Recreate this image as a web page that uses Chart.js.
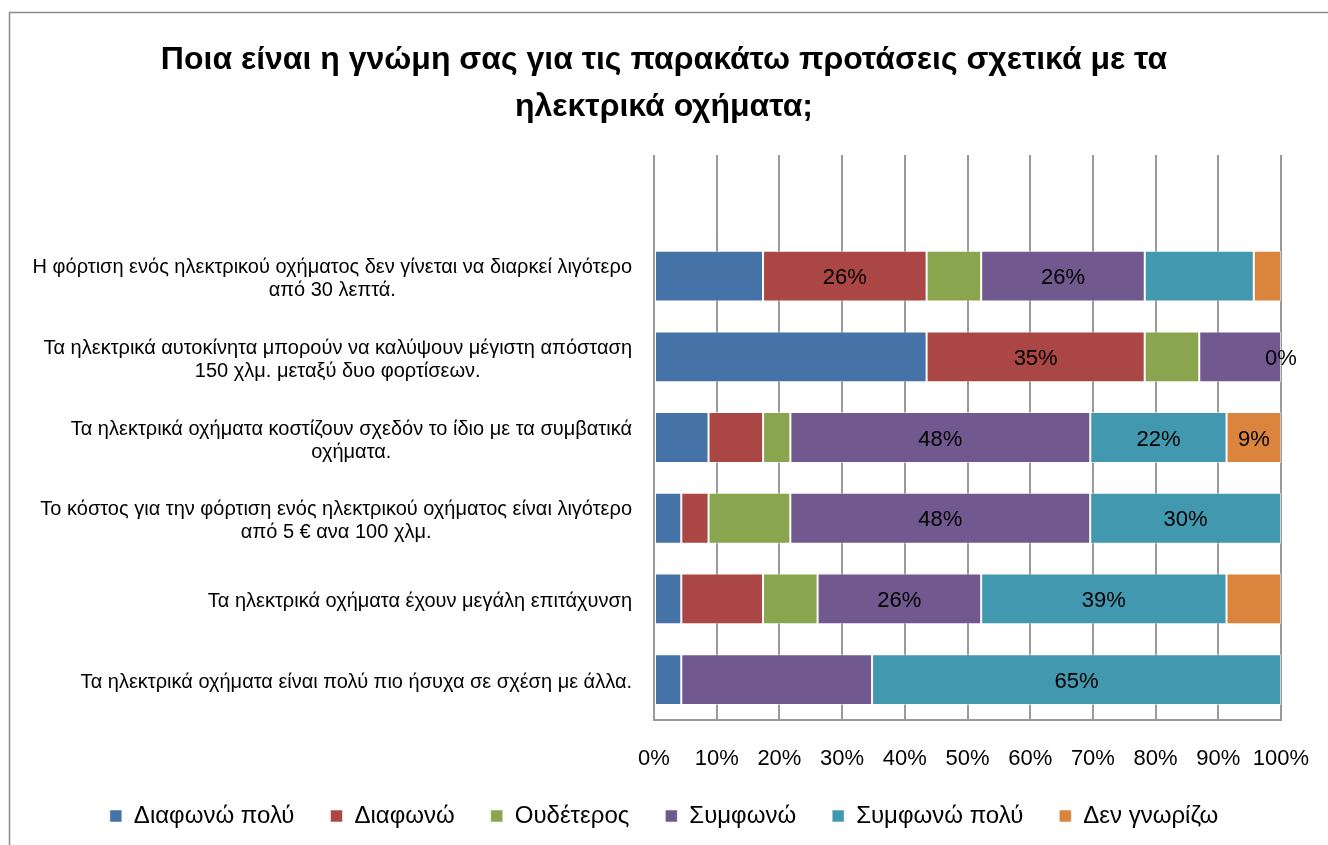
<!DOCTYPE html>
<html>
<head>
<meta charset="utf-8">
<script src="https://cdn.jsdelivr.net/npm/chart.js@4/dist/chart.umd.min.js"></script>
<style>
  html, body { margin: 0; padding: 0; background: #fff; }
  #wrap { width: 1328px; height: 845px; }
</style>
</head>
<body>
<div id="wrap"><canvas id="chart"></canvas></div>
<script>
// categories, top to bottom (the first one is the empty row Excel left above the bars)
const categories = [
    [''],
    ['Η φόρτιση ενός ηλεκτρικού οχήματος δεν γίνεται να διαρκεί λιγότερο', 'από 30 λεπτά.'],
    ['Τα ηλεκτρικά αυτοκίνητα μπορούν να καλύψουν μέγιστη απόσταση', '150 χλμ. μεταξύ δυο φορτίσεων.'],
    ['Τα ηλεκτρικά οχήματα κοστίζουν σχεδόν το ίδιο με τα συμβατικά', 'οχήματα.'],
    ['Το κόστος για την φόρτιση ενός ηλεκτρικού οχήματος είναι λιγότερο', 'από 5 € ανα 100 χλμ.'],
    ['Τα ηλεκτρικά οχήματα έχουν μεγάλη επιτάχυνση'],
    ['Τα ηλεκτρικά οχήματα είναι πολύ πιο ήσυχα σε σχέση με άλλα.']
];

const seriesNames = ['Διαφωνώ πολύ', 'Διαφωνώ', 'Ουδέτερος', 'Συμφωνώ', 'Συμφωνώ πολύ', 'Δεν γνωρίζω'];
const seriesColors = ['#4572A7', '#AA4643', '#89A54E', '#71588F', '#4198AF', '#DB843D'];

// percentages
const diafonoPoly = [null, 17.39, 43.48, 8.70, 4.35, 4.35, 4.35];
const diafono     = [null, 26.09, 34.78, 8.70, 4.35, 13.04, 0];
const oudeteros   = [null, 8.70, 8.70, 4.35, 13.04, 8.70, 0];
const symfono     = [null, 26.09, 13.04, 47.83, 47.83, 26.09, 30.43];
const symfonoPoly = [null, 17.39, 0, 21.74, 30.43, 39.13, 65.22];
const denGnorizo  = [null, 4.35, 0, 8.70, 0, 8.70, 0];

// which bars carry a value label (per series, by category index)
const labelledBars = [[], [1, 2], [], [1, 3, 4, 5], [2, 3, 4, 5, 6], [3]];

const xTicks = [0, 10, 20, 30, 40, 50, 60, 70, 80, 90, 100];

const FONT = "'Liberation Sans', Arial, sans-serif";

const allSeries = [diafonoPoly, diafono, oudeteros, symfono, symfonoPoly, denGnorizo];

const datasets = allSeries.map((values, i) => ({
    label: seriesNames[i],
    data: values,
    backgroundColor: seriesColors[i],
    borderColor: 'rgba(255,255,255,0.55)',
    borderWidth: 1,
    borderSkipped: false,
    categoryPercentage: 1,
    barPercentage: 0.63
}));

// frame around the chart area (only left and top are inside the picture)
const framePlugin = {
    id: 'frame',
    beforeDraw(chart) {
        const ctx = chart.ctx;
        ctx.save();
        ctx.fillStyle = '#fff';
        ctx.fillRect(0, 0, chart.width, chart.height);
        ctx.strokeStyle = '#8a8a8a';
        ctx.lineWidth = 1.5;
        ctx.strokeRect(9.5, 12.5, chart.width + 20, chart.height + 20);
        ctx.restore();
    }
};

// category labels: block right-aligned, lines centred on each other
const categoryLabels = {
    id: 'categoryLabels',
    afterDraw(chart) {
        const ctx = chart.ctx;
        const y = chart.scales.y;
        ctx.save();
        ctx.font = '20px ' + FONT;
        ctx.fillStyle = '#000';
        ctx.textAlign = 'center';
        ctx.textBaseline = 'middle';
        const right = 632, lh = 23;
        categories.forEach((lines, i) => {
            const w = Math.max(...lines.map(l => ctx.measureText(l).width));
            const cx = right - w / 2;
            const cy = y.getPixelForValue(i) + 3;
            const y0 = cy - (lines.length - 1) * lh / 2;
            lines.forEach((l, k) => ctx.fillText(l, cx, y0 + k * lh));
        });
        ctx.restore();
    }
};

// value labels inside the chosen bars
const valueLabels = {
    id: 'valueLabels',
    afterDatasetsDraw(chart) {
        const ctx = chart.ctx;
        ctx.save();
        ctx.font = '22px ' + FONT;
        ctx.fillStyle = '#000';
        ctx.textAlign = 'center';
        ctx.textBaseline = 'middle';
        labelledBars.forEach((idx, d) => {
            const meta = chart.getDatasetMeta(d);
            idx.forEach(i => {
                const el = meta.data[i];
                const v = chart.data.datasets[d].data[i];
                ctx.fillText(Math.round(v) + '%', (el.x + el.base) / 2, el.y + 2);
            });
        });
        ctx.restore();
    }
};

new Chart(document.getElementById('chart'), {
    type: 'bar',
    data: {
        labels: categories.map(c => c.join(' ')),
        datasets: datasets
    },
    options: {
        indexAxis: 'y',
        responsive: true,
        maintainAspectRatio: false,
        animation: false,
        events: [],
        layout: {padding: {left: 47, right: 47, top: 0, bottom: 7}},
        scales: {
            x: {
                stacked: true,
                min: 0,
                max: 100,
                afterBuildTicks: s => { s.ticks = xTicks.map(v => ({value: v})); },
                afterFit: s => { s.height = 48; },
                ticks: {
                    callback: v => v + '%',
                    color: '#000',
                    font: {family: FONT, size: 22},
                    padding: 3,
                    maxRotation: 0
                },
                grid: {color: '#9a9a9a', lineWidth: 2, tickLength: 23, tickColor: 'rgba(0,0,0,0)'},
                border: {color: '#9a9a9a', width: 2}
            },
            y: {
                stacked: true,
                ticks: {display: false},
                grid: {display: false, drawTicks: false},
                border: {display: false},
                afterFit: s => { s.width = 607; }
            }
        },
        plugins: {
            title: {
                display: true,
                text: ['Ποια είναι η γνώμη σας για τις παρακάτω προτάσεις σχετικά με τα', 'ηλεκτρικά οχήματα;'],
                color: '#000',
                font: {family: FONT, size: 32, weight: 'bold', lineHeight: 1.47},
                padding: {top: 37, bottom: 24}
            },
            legend: {
                position: 'bottom',
                labels: {
                    color: '#000',
                    font: {family: FONT, size: 24},
                    boxWidth: 12,
                    boxHeight: 12,
                    padding: 36
                }
            },
            tooltip: {enabled: false}
        }
    },
    plugins: [framePlugin, categoryLabels, valueLabels]
});
</script>
</body>
</html>
